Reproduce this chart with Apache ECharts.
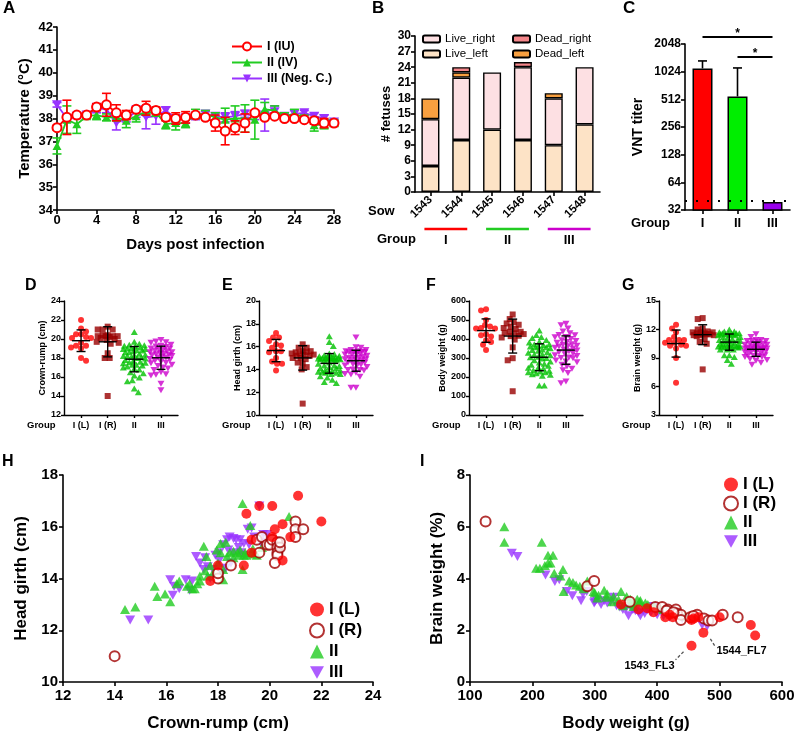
<!DOCTYPE html>
<html><head><meta charset="utf-8">
<script src="https://cdn.jsdelivr.net/npm/echarts@6/dist/echarts.min.js"></script>
<style>html,body{margin:0;padding:0;background:#fff}#c{width:798px;height:736px}</style>
</head><body><div id="c"></div>
<script>
// ---------- Panel A: temperature ----------
const days = [0,1,2,3,4,5,6,7,8,9,10,11,12,13,14,15,16,17,18,19,20,21,22,23,24,25,26,27,28];
const tempI   = [37.6,38.05,38.15,38.15,38.5,38.6,38.25,38.15,38.4,38.45,38.35,38.05,38.0,38.05,38.15,38.05,37.8,37.45,37.6,37.8,38.25,38.05,38.1,38.0,38.0,37.95,37.9,37.8,37.8];
const errI    = [0.1,0.75,0.1,0.05,0.15,0.5,0.35,0.2,0.1,0.3,0.15,0.15,0.25,0.25,0.1,0.1,0.35,0.6,0.3,0.4,0.1,0.1,0.05,0.05,0.05,0.05,0.15,0.2,0.1];
const tempII  = [36.8,37.95,37.75,38.1,38.15,38.05,38.05,37.9,38.1,38.3,38.25,37.75,37.8,37.8,38.2,38.2,38.05,37.95,38.0,38.0,37.95,38.4,38.35,38.1,38.2,38.05,37.7,37.75,37.8];
const errII   = [0.35,0.6,0.4,0.1,0.2,0.15,0.15,0.3,0.25,0.1,0.15,0.2,0.3,0.2,0.2,0.15,0.2,0.5,0.55,0.6,0.85,0.3,0.2,0.15,0.2,0.1,0.25,0.2,0.15];
const tempIII = [38.6,38.0,38.1,38.15,38.45,38.4,37.8,38.0,38.3,38.05,38.1,38.35,38.0,38.0,38.1,38.2,38.1,38.05,38.1,38.2,38.1,38.15,38.3,38.1,38.2,38.25,38.1,38.0,37.85];
const errIII  = [0.1,0.15,0.1,0.1,0.2,0.15,0.3,0.15,0.25,0.5,0.35,0.15,0.15,0.2,0.15,0.1,0.15,0.2,0.2,0.15,0.15,0.7,0.25,0.15,0.15,0.1,0.15,0.15,0.1];
const namesA = ['I (IU)','II (IV)','III (Neg. C.)'];

// ---------- Panel B: fetuses per sow ----------
const sows = ['1543','1544','1545','1546','1547','1548'];
const liveLeft  = [5,10,12,10,9,13];
const liveRight = [9,12,11,14,9,11];
const deadLeft  = [4,1,0,0,1,0];
const deadRight = [0,1,0,1,0,0];
const sowGroups = [{label:'I',from:0,to:1},{label:'II',from:2,to:3},{label:'III',from:4,to:5}];

// ---------- Panel C: VNT titer ----------
const vntGroups = ['I','II','III'];
const vntMean = [1110,550,39];
const vntErr  = [1340,1124,39];
const vntLimit = 40;

// ---------- Panels D-I: fetal measurements ----------
const groupLabels = ['I (L)','I (R)','II','III'];
// crown-rump (cm) and head girth (cm) per fetus (panel H / D / E)
const crIL = [17.7,18.0,19.0,19.1,19.3,19.3,19.6,20.1,20.1,20.2,20.5,20.5,20.8,21.1,22.0];
const hgIL = [13.9,14.5,14.5,16.5,15.5,15.0,16.8,16.8,15.6,15.9,16.1,14.7,15.6,17.2,16.2];
const crIR = [14.0,18.0,18.0,18.5,19.6,19.5,19.7,19.9,20.0,20.1,20.3,20.3,20.3,20.3,20.2,20.4,21.0,21.0,21.0,21.3,20.4];
const hgIR = [11.0,14.0,14.2,14.5,15.0,15.5,15.6,15.3,15.3,15.5,15.4,15.2,15.0,14.9,14.6,15.2,16.2,15.9,15.6,15.9,15.4];
const crII = [14.4,14.8,15.55,15.65,15.95,16.15,16.5,16.8,17.0,17.2,17.3,17.45,17.5,17.55,17.7,17.8,17.95,18.1,18.1,18.2,18.2,18.35,18.45,18.6,18.75,18.85,18.95,18.95,19.05,19.1,19.25,19.3,19.35,19.4,20.75,16.4,16.9,17.3,17.6,18.0,18.3,18.6,19.0,19.5,19.7,17.1,18.8];
const hgII = [12.8,12.9,13.7,13.3,13.4,13.1,13.9,13.7,13.6,13.8,13.9,15.25,14.3,14.85,14.5,14.2,15.1,15.35,15.0,13.95,14.35,14.85,15.0,15.05,15.0,15.1,16.9,14.35,15.0,14.9,16.05,15.0,15.15,14.95,16.4,13.8,13.8,14.1,14.1,14.6,15.4,14.8,14.9,14.9,15.2,13.6,14.9];
const crIII = [15.3,14.6,16.15,16.25,16.3,16.75,16.9,17.15,17.3,17.45,17.6,17.8,18.05,18.15,18.35,18.45,18.6,18.7,18.85,19.0,19.15,19.3,19.6,19.75,19.65,18.6,18.05,17.0,17.5,17.9,18.2,18.4,18.5,18.8,19.0,19.2,19.4,19.9,16.5,17.7,18.3,18.9];
const hgIII = [12.4,12.4,13.95,13.35,13.7,13.95,13.55,14.85,14.6,14.35,14.45,14.35,15.0,14.2,15.5,15.6,15.55,15.5,15.5,15.35,15.9,15.95,16.8,15.7,15.4,15.0,14.7,13.9,14.8,14.9,15.3,15.1,14.6,15.2,14.9,15.3,15.6,15.7,13.6,14.0,14.4,15.0];
// body weight (g) and brain weight (% of body) per fetus (panel I / F)
const bwIL = [342,370,384,394,413,420,425,455,458,466,474,455,500,550,557];
const bpIL = [3.0,2.8,2.85,2.7,2.5,2.6,2.5,2.4,2.45,2.5,1.9,1.4,2.5,2.2,1.8];
const bwIR = [125,288,299,356,397,408,417,430,432,438,438,464,475,482,488,505,529,453,415,426,458];
const bpIR = [6.2,3.7,3.9,3.1,2.9,2.9,2.8,2.8,2.65,2.6,2.4,2.6,2.45,2.38,2.38,2.6,2.5,2.5,2.75,2.7,2.55];
const bwII = [155,155,206,212,215,225,225,233,229,249,250,259,276,288,298,304,315,306,328,342,345,351,357,361,368,373,381,405,421,362,357,338,319,445,410,395,385,372,330,320,300,282,270,245,235,220,265];
const bpII = [6.0,5.4,4.4,4.4,5.4,4.9,4.6,4.9,4.6,4.35,3.5,3.9,3.7,3.9,3.5,3.25,3.55,3.35,3.1,3.5,2.95,3.3,3.2,3.05,3.2,3.15,3.05,2.85,2.75,2.92,3.02,3.18,3.28,2.55,2.8,2.95,3.0,3.1,3.3,3.4,3.45,3.6,3.75,4.1,4.2,4.5,3.85];
const bwIII = [167,176,221,236,243,264,278,281,287,299,303,315,330,345,354,373,384,362,472,394,409,421,300,310,320,325,335,340,350,360,365,370,380,390,400,410,420,430,440,455,480,255];
const bpIII = [4.98,4.85,4.14,3.88,3.95,3.33,3.14,3.4,3.5,3.05,3.18,3.14,3.28,2.8,2.56,2.56,2.79,2.82,2.2,2.92,2.73,2.6,3.1,3.0,3.05,3.1,2.95,2.9,2.85,2.8,2.75,2.7,2.65,2.7,2.6,2.55,2.5,2.5,2.45,2.4,2.15,3.5];
// brain weight (g) per fetus (panel G)
const brIL = [10.3,10.4,10.9,10.6,10.3,10.9,10.6,10.9,11.2,11.7,9.0,6.4,12.5,12.1,10.0];
const brIR = [7.8,10.7,11.7,11.0,11.5,11.8,11.7,12.0,11.4,11.4,10.5,12.1,11.6,11.5,11.6,13.1,13.2,11.3,11.4,11.5,11.7];
const brII = [9.3,8.4,9.1,9.3,11.6,11.0,10.4,11.4,10.5,10.8,8.8,10.1,10.2,11.2,10.4,9.9,11.2,10.3,10.2,12.0,10.2,11.6,11.4,11.0,11.8,11.8,11.6,11.5,11.6,10.6,10.8,10.8,10.5,11.4,11.5,11.7,11.6,11.5,10.9,10.9,10.4,10.2,10.1,10.1,9.9,9.9,10.2];
const brIII = [8.3,8.5,9.2,9.2,9.6,8.8,8.7,9.6,10.0,9.1,9.6,9.9,10.8,9.7,9.1,9.5,10.7,10.2,10.4,11.5,11.2,10.9,9.3,9.3,9.8,10.1,9.9,9.9,10.0,10.1,10.0,10.0,10.1,10.5,10.4,10.5,10.5,10.8,10.8,10.9,10.3,8.9];
const annotI = [{label:'1543_FL3', bw:455, bp:1.4, side:'left'},{label:'1544_FL7', bw:474, bp:1.9, side:'right'}];

// ---------- styling ----------
const FONT = '"Liberation Sans", Arial, sans-serif';
const RED='#ff0000', DRED='#a00000', GREEN='#22cc22', PURPLE='#9933ff', MAG='#cc00cc', DGREEN='#00c000';
const INV = 'path://M0,0L10,0L5,9Z';

const chart = echarts.init(document.getElementById('c'), null, {renderer:'canvas'});

function ax(o, fs, extra){
  return Object.assign({
    axisLine:{show:true,onZero:false,lineStyle:{color:'#000',width:1.6}},
    axisTick:{show:true,length:4,lineStyle:{color:'#000',width:1.6}},
    axisLabel:{color:'#000',fontWeight:'bold',fontSize:fs,fontFamily:FONT,margin:4},
    splitLine:{show:false},
    nameTextStyle:{color:'#000',fontWeight:'bold',fontFamily:FONT},
  }, o, extra||{});
}
function nm(fs){ return {color:'#000',fontWeight:'bold',fontFamily:FONT,fontSize:fs}; }

const grids = [
  {left:57, top:27, width:277, height:183},   // 0 A
  {left:415, top:36, width:185, height:156},  // 1 B
  {left:685, top:44, width:105, height:166},  // 2 C
  {left:64, top:301, width:114, height:114},  // 3 D
  {left:259, top:301, width:114, height:114}, // 4 E
  {left:469, top:301, width:114, height:114}, // 5 F
  {left:659, top:301, width:114, height:114}, // 6 G
  {left:63, top:475, width:310, height:207},  // 7 H
  {left:470, top:475, width:312, height:207}, // 8 I
];

const xAxes = [], yAxes = [];
// A
xAxes.push(ax({gridIndex:0,type:'value',min:0,max:28,interval:4,name:'Days post infection',nameLocation:'middle',nameGap:27,nameTextStyle:nm(15)},13));
yAxes.push(ax({gridIndex:0,type:'value',min:34,max:42,interval:1,name:'Temperature (°C)',nameLocation:'middle',nameGap:25,nameTextStyle:nm(15)},13));
// B
xAxes.push(ax({gridIndex:1,type:'category',data:sows,axisTick:{show:true,alignWithLabel:true,length:4,lineStyle:{color:'#000',width:1.6}}},11.5,{}));
xAxes[1].axisLabel = {color:'#000',fontWeight:'bold',fontSize:11.5,fontFamily:FONT,rotate:45,margin:6,interval:0};
yAxes.push(ax({gridIndex:1,type:'value',min:0,max:30,interval:3,name:'# fetuses',nameLocation:'middle',nameGap:22,nameTextStyle:nm(13)},12));
// C
xAxes.push(ax({gridIndex:2,type:'category',data:vntGroups,axisTick:{show:true,alignWithLabel:true,length:4,lineStyle:{color:'#000',width:1.6}}},13));
xAxes[2].axisLabel = {color:'#000',fontWeight:'bold',fontSize:13,fontFamily:FONT,margin:7};
yAxes.push(ax({gridIndex:2,type:'log',logBase:2,min:32,max:2048,splitNumber:6,name:'VNT titer',nameLocation:'middle',nameGap:40,nameTextStyle:nm(14)},12,
  {axisLabel:{color:'#000',fontWeight:'bold',fontSize:12,fontFamily:FONT,margin:4,formatter:(v)=>String(Math.round(v))}}));
// D-G
const dgY = [
  {min:12,max:24,interval:2,name:'Crown-rump (cm)',gap:17},
  {min:10,max:20,interval:2,name:'Head girth (cm)',gap:17},
  {min:0,max:600,interval:100,name:'Body weight (g)',gap:19},
  {min:3,max:15,interval:3,name:'Brain weight (g)',gap:17},
];
dgY.forEach((c,i)=>{
  const g = 3+i;
  xAxes.push(ax({gridIndex:g,type:'value',min:0.36,max:4.64},9,{
    axisTick:{show:true,length:3,customValues:[1,2,3,4],lineStyle:{color:'#000',width:1.4}},
    axisLabel:{customValues:[1,2,3,4],formatter:(v)=>groupLabels[Math.round(v)-1]||'',color:'#000',fontWeight:'bold',fontSize:9,fontFamily:FONT,margin:6},
    axisLine:{show:true,onZero:false,lineStyle:{color:'#000',width:1.4}}
  }));
  yAxes.push(ax({gridIndex:g,type:'value',min:c.min,max:c.max,interval:c.interval,name:c.name,nameLocation:'middle',nameGap:c.gap,nameTextStyle:nm(9)},9,{
    axisTick:{show:true,length:3,lineStyle:{color:'#000',width:1.4}},
    axisLine:{show:true,onZero:false,lineStyle:{color:'#000',width:1.4}},
    axisLabel:{color:'#000',fontWeight:'bold',fontSize:9,fontFamily:FONT,margin:3}
  }));
});
// H
xAxes.push(ax({gridIndex:7,type:'value',min:12,max:24,interval:2,name:'Crown-rump (cm)',nameLocation:'middle',nameGap:33,nameTextStyle:nm(17)},15,{axisLabel:{color:'#000',fontWeight:'bold',fontSize:15,fontFamily:FONT,margin:6}}));
yAxes.push(ax({gridIndex:7,type:'value',min:10,max:18,interval:2,name:'Head girth (cm)',nameLocation:'middle',nameGap:33,nameTextStyle:nm(17)},15,{axisLabel:{color:'#000',fontWeight:'bold',fontSize:15,fontFamily:FONT,margin:5}}));
// I
xAxes.push(ax({gridIndex:8,type:'value',min:100,max:600,interval:100,name:'Body weight (g)',nameLocation:'middle',nameGap:33,nameTextStyle:nm(17)},15,{axisLabel:{color:'#000',fontWeight:'bold',fontSize:15,fontFamily:FONT,margin:6}}));
yAxes.push(ax({gridIndex:8,type:'value',min:0,max:8,interval:2,name:'Brain weight (%)',nameLocation:'middle',nameGap:24,nameTextStyle:nm(17)},15,{axisLabel:{color:'#000',fontWeight:'bold',fontSize:15,fontFamily:FONT,margin:5}}));

const series = [];
// ---- A ----
function errBars(axIdx, xs, ys, es, color, z, upOnly){
  return {type:'custom',xAxisIndex:axIdx,yAxisIndex:axIdx,z:z,silent:true,clip:false,
    data: xs.map((x,i)=>[x, ys[i], es[i]]),
    renderItem:(p,api)=>{
      const x=api.value(0), y=api.value(1), e=api.value(2);
      const top=api.coord([x, upOnly? e : y+e]);
      const mid=api.coord([x,y]);
      const bot=upOnly? mid : api.coord([x,y-e]);
      const w=4.5, st={stroke:color,lineWidth:1.6};
      const ch=[{type:'line',shape:{x1:top[0],y1:top[1],x2:bot[0],y2:bot[1]},style:st},
                {type:'line',shape:{x1:top[0]-w,y1:top[1],x2:top[0]+w,y2:top[1]},style:st}];
      if(!upOnly) ch.push({type:'line',shape:{x1:bot[0]-w,y1:bot[1],x2:bot[0]+w,y2:bot[1]},style:st});
      return {type:'group',children:ch};
    }};
}
const zip=(a,b)=>a.map((v,i)=>[v,b[i]]);
series.push(errBars(0, days, tempIII, errIII, PURPLE, 2));
series.push({type:'line',name:namesA[2],xAxisIndex:0,yAxisIndex:0,z:2,data:zip(days,tempIII),symbol:INV,symbolSize:[10,9],
  lineStyle:{color:PURPLE,width:1.8},itemStyle:{color:PURPLE}});
series.push(errBars(0, days, tempII, errII, GREEN, 3));
series.push({type:'line',name:namesA[1],xAxisIndex:0,yAxisIndex:0,z:3,data:zip(days,tempII),symbol:'triangle',symbolSize:[9,8],
  lineStyle:{color:GREEN,width:1.8},itemStyle:{color:GREEN}});
series.push(errBars(0, days, tempI, errI, RED, 4));
series.push({type:'line',name:namesA[0],xAxisIndex:0,yAxisIndex:0,z:4,data:zip(days,tempI),symbol:'emptyCircle',symbolSize:9,
  lineStyle:{color:RED,width:1.8},itemStyle:{color:RED,borderColor:RED,borderWidth:1.8}});

// ---- B ----
const nz = a=>a.map(v=>v===0?null:v);
const bStyle=(c)=>({color:c,borderColor:'#000',borderWidth:1.4});
[['Live_left',liveLeft,'#fde3c6'],['Live_right',liveRight,'#fde0e3'],['Dead_left',deadLeft,'#f8a040'],['Dead_right',deadRight,'#f4868a']].forEach(([n,d,c])=>{
  series.push({type:'bar',name:n,xAxisIndex:1,yAxisIndex:1,stack:'sow',barWidth:18,data:nz(d),itemStyle:bStyle(c)});
});

// ---- C ----
const cColors=['#ff0000','#00ee00','#9900ee'];
series.push({type:'bar',name:'VNT',xAxisIndex:2,yAxisIndex:2,barWidth:20,
  data: vntMean.map((v,i)=>({value:v,itemStyle:{color:cColors[i],borderColor:'#000',borderWidth:1.5}})),
  markLine:{silent:true,symbol:'none',label:{show:false},lineStyle:{color:'#000',type:[2,9],width:2},data:[{yAxis:vntLimit}]}});
series.push(errBars(2, [0,1], vntMean.slice(0,2), vntErr.slice(0,2), '#000', 1, true));

// ---- D-G dot plots (positions filled after layout) ----
const dgSets = [
  [crIL,crIR,crII,crIII],
  [hgIL,hgIR,hgII,hgIII],
  [bwIL,bwIR,bwII,bwIII],
  [brIL,brIR,brII,brIII],
];
const dgSym = [
  {symbol:'circle',size:6,color:RED},
  {symbol:'rect',size:6,color:'#990000'},
  {symbol:'triangle',size:[7,6],color:DGREEN},
  {symbol:INV,size:[7,6],color:MAG},
];
const meanSd = a=>{const m=a.reduce((s,v)=>s+v,0)/a.length; const sd=Math.sqrt(a.reduce((s,v)=>s+(v-m)*(v-m),0)/(a.length-1)); return [m,sd];};
const dgSeriesIdx = [];
dgSets.forEach((sets,pi)=>{
  const g=3+pi;
  sets.forEach((vals,gi)=>{
    dgSeriesIdx.push(series.length);
    series.push({type:'scatter',xAxisIndex:g,yAxisIndex:g,symbol:dgSym[gi].symbol,symbolSize:dgSym[gi].size,
      itemStyle:{color:dgSym[gi].color},data:[],z:2});
  });
  series.push({type:'custom',xAxisIndex:g,yAxisIndex:g,z:5,silent:true,
    data: sets.map((vals,gi)=>{const [m,s]=meanSd(vals); return [gi+1,m,s];}),
    renderItem:(p,api)=>{
      const x=api.value(0), m=api.value(1), s=api.value(2);
      const c=api.coord([x,m]), t=api.coord([x,m+s]), b=api.coord([x,m-s]);
      const st={stroke:'#000',lineWidth:1.4};
      return {type:'group',children:[
        {type:'line',shape:{x1:c[0]-9,y1:c[1],x2:c[0]+9,y2:c[1]},style:st},
        {type:'line',shape:{x1:t[0],y1:t[1],x2:b[0],y2:b[1]},style:st},
        {type:'line',shape:{x1:t[0]-4.5,y1:t[1],x2:t[0]+4.5,y2:t[1]},style:st},
        {type:'line',shape:{x1:b[0]-4.5,y1:b[1],x2:b[0]+4.5,y2:b[1]},style:st},
      ]};
    }});
});

// ---- H ----
const scStyle = {
  'I (L)':{symbol:'circle',symbolSize:10,itemStyle:{color:RED}},
  'I (R)':{symbol:'emptyCircle',symbolSize:10,itemStyle:{color:DRED,borderColor:DRED,borderWidth:2}},
  'II':{symbol:'triangle',symbolSize:[10,9],itemStyle:{color:GREEN}},
  'III':{symbol:INV,symbolSize:[10,9],itemStyle:{color:PURPLE}},
};
const hData = [['III',crIII,hgIII],['II',crII,hgII],['I (R)',crIR,hgIR],['I (L)',crIL,hgIL]];
hData.forEach(([n,x,y])=>series.push(Object.assign({type:'scatter',name:n,xAxisIndex:7,yAxisIndex:7,data:zip(x,y)},scStyle[n])));
const iData = [['III',bwIII,bpIII],['II',bwII,bpII],['I (R)',bwIR,bpIR],['I (L)',bwIL,bpIL]];
iData.forEach(([n,x,y])=>series.push(Object.assign({type:'scatter',name:n,xAxisIndex:8,yAxisIndex:8,data:zip(x,y)},scStyle[n])));

const legTxt = (fs, w)=>({color:'#000',fontWeight:w||'bold',fontSize:fs,fontFamily:FONT});
const legends = [
  {data:namesA,left:226,top:35,orient:'vertical',itemGap:3,itemWidth:30,itemHeight:10,textStyle:legTxt(12.5),selectedMode:false},
  {data:['Live_right','Live_left'],left:417,top:28,orient:'vertical',itemGap:3,itemWidth:17,itemHeight:7,textStyle:legTxt(11.5,'normal'),selectedMode:false},
  {data:['Dead_right','Dead_left'],left:507,top:28,orient:'vertical',itemGap:3,itemWidth:17,itemHeight:7,textStyle:legTxt(11.5,'normal'),selectedMode:false},
  {data:['I (L)','I (R)','II','III'],left:304,top:596,orient:'vertical',itemGap:4,itemWidth:14,itemHeight:14,textStyle:legTxt(17),selectedMode:false},
  {data:['I (L)','I (R)','II','III'],left:718,top:471,orient:'vertical',itemGap:2,itemWidth:14,itemHeight:14,textStyle:legTxt(17),selectedMode:false},
];

chart.setOption({
  animation:false,
  textStyle:{fontFamily:FONT},
  grid:grids.map(g=>Object.assign({containLabel:false},g)),
  xAxis:xAxes, yAxis:yAxes, series:series, legend:legends
});

// ---- beeswarm layout for D-G from pixel positions of each value ----
function swarm(g, vals, d, maxOff){
  const p0=chart.convertToPixel({gridIndex:g},[1,vals[0]]), p1=chart.convertToPixel({gridIndex:g},[2,vals[0]]);
  const ppu=p1[0]-p0[0];
  const pts=vals.map((v,i)=>({i, v, y:chart.convertToPixel({gridIndex:g},[1,v])[1]}));
  pts.sort((a,b)=>a.y-b.y);
  const placed=[]; const off=new Array(vals.length).fill(0);
  const cands=[0];
  for(let k=1;k<=maxOff;k++){cands.push(k);cands.push(-k);}
  pts.forEach((p,n)=>{
    let best=null,bestD=-1;
    for(const o0 of cands){
      const o = (n%2)? -o0 : o0;
      let md=1e9;
      for(const q of placed){const dx=o-q.o, dy=p.y-q.y; const dd=Math.sqrt(dx*dx+dy*dy); if(dd<md) md=dd;}
      if(md>=d){best=o;bestD=md;break;}
      if(md>bestD){bestD=md;best=o;}
    }
    placed.push({o:best,y:p.y}); off[p.i]=best/ppu;
  });
  return off;
}
const upd=[];
let si=0;
dgSets.forEach((sets,pi)=>{
  sets.forEach((vals,gi)=>{
    const off=swarm(3+pi, vals, 5, 11);
    upd.push({index:dgSeriesIdx[si++], data: vals.map((v,k)=>[gi+1+off[k], v])});
  });
});
const series2 = series.map((s,i)=>{const u=upd.find(q=>q.index===i); return u? Object.assign({},s,{data:u.data}) : s;});

// ---- annotation graphics ----
const gr=[];
const letter=(t,x,y,fs)=>gr.push({type:'text',left:x,top:y,style:{text:t,font:`bold ${fs||17}px ${FONT}`,fill:'#000'}});
letter('A',3,0); letter('B',372,0); letter('C',623,0);
letter('D',25,278,16); letter('E',222,278,16); letter('F',426,278,16); letter('G',622,278,16);
letter('H',2,454,16); letter('I',420,454,16);
const txt=(t,x,y,fs,align,w)=>gr.push({type:'text',x:x,y:y,style:{text:t,font:`${w||'bold'} ${fs}px ${FONT}`,fill:'#000',textAlign:align||'left',textVerticalAlign:'middle'}});
txt('Sow',368,211,13);
txt('Group',377,239,13);
const bColors=['#ff0000','#22cc22','#cc00cc'];
sowGroups.forEach((sg,i)=>{
  const a=chart.convertToPixel({xAxisIndex:1,yAxisIndex:1},[sg.from,0]);
  const b=chart.convertToPixel({xAxisIndex:1,yAxisIndex:1},[sg.to,0]);
  gr.push({type:'line',shape:{x1:a[0]-6,y1:229,x2:b[0]+6,y2:229},style:{stroke:bColors[i],lineWidth:2.5}});
  txt(sg.label,(a[0]+b[0])/2,240,13,'center');
});
txt('Group',631,223,13);
// C significance brackets
const c0=chart.convertToPixel({xAxisIndex:2,yAxisIndex:2},[0,2048]);
const c1=chart.convertToPixel({xAxisIndex:2,yAxisIndex:2},[1,2048]);
const c2=chart.convertToPixel({xAxisIndex:2,yAxisIndex:2},[2,2048]);
gr.push({type:'line',shape:{x1:c0[0],y1:c0[1]-7,x2:c2[0],y2:c2[1]-7},style:{stroke:'#000',lineWidth:2}});
txt('*',(c0[0]+c2[0])/2,c0[1]-10,12,'center');
gr.push({type:'line',shape:{x1:c1[0],y1:c0[1]+13,x2:c2[0],y2:c0[1]+13},style:{stroke:'#000',lineWidth:2}});
txt('*',(c1[0]+c2[0])/2,c0[1]+10,12,'center');
// D-G "Group" labels
[27,222,432,622].forEach(x=>txt('Group',x,425,9.5));
// I annotations
annotI.forEach(a=>{
  const p=chart.convertToPixel({xAxisIndex:8,yAxisIndex:8},[a.bw,a.bp]);
  if(a.side==='left'){
    gr.push({type:'line',shape:{x1:p[0]-8,y1:p[1]+6,x2:p[0]-16,y2:p[1]+14},style:{stroke:'#555',lineWidth:1.3,lineDash:[3,2]}});
    txt(a.label,p[0]-17,p[1]+20,11,'right');
  } else {
    gr.push({type:'line',shape:{x1:p[0]+7,y1:p[1]+6,x2:p[0]+12,y2:p[1]+14},style:{stroke:'#555',lineWidth:1.3,lineDash:[3,2]}});
    txt(a.label,p[0]+13,p[1]+18,11,'left');
  }
});

chart.setOption({series:series2, graphic:gr});
</script></body></html>
